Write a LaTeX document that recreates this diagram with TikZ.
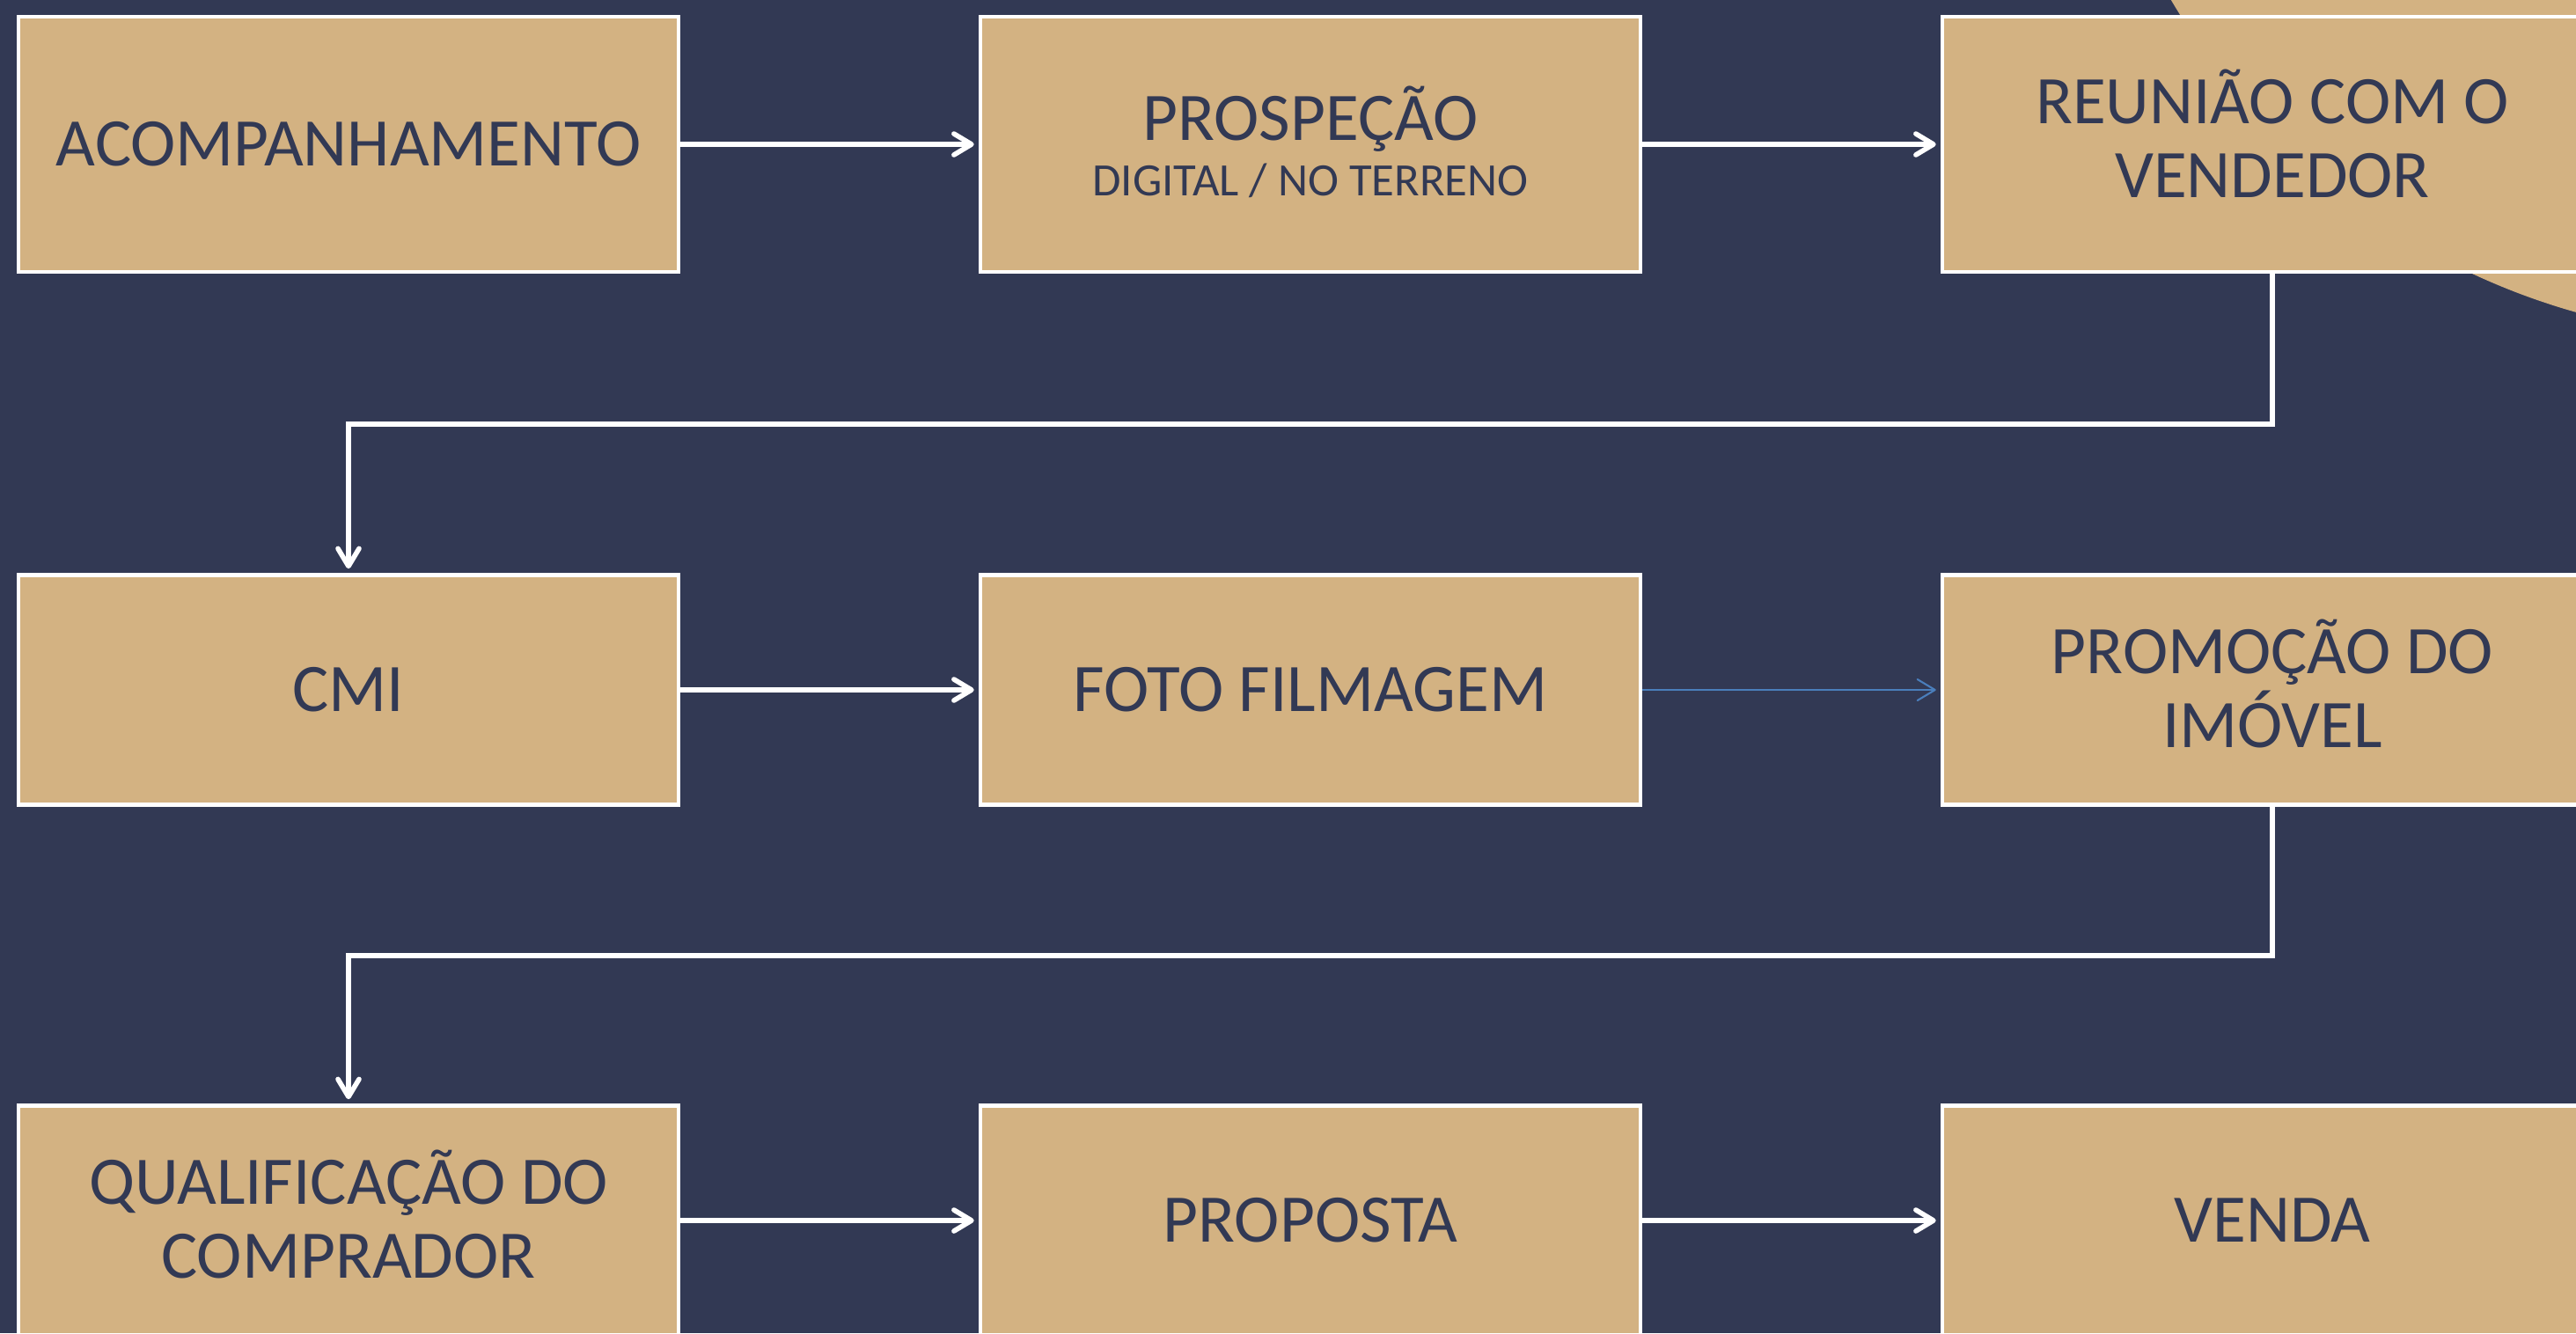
\documentclass[tikz,border=0pt]{standalone}
\usepackage{fontspec}
\setmainfont{Carlito}
\usetikzlibrary{arrows.meta}
\definecolor{navy}{RGB}{50,57,84}
\definecolor{sand}{RGB}{211,178,130}
\definecolor{linkblue}{RGB}{74,126,187}
\newcommand{\lastline}{\rule[-4pt]{0pt}{0pt}}
\begin{document}
\begin{tikzpicture}[line width=1.3pt, font=\fontsize{22}{24}\selectfont,
  >={Straight Barb[length=2.0mm, width=2.4mm, round]}]
\tikzstyle{every node} = [rectangle, fill=sand, draw=white, text=navy, minimum width=7.5cm, align=center]
\tikzstyle{tall} = [minimum height=2.9cm]
\tikzstyle{short} = [minimum height=2.61cm]
\tikzstyle{link} = [->, white, line width=1.6pt, shorten >=0.5mm]
\useasboundingbox (0,0) rectangle (29.27,-15.15);
\clip (0,0) rectangle (29.27,-15.15);
\fill [navy] (0,0) rectangle (29.27,-15.15);
\fill [sand] (31.39,3.96) circle (7.8);
% first row
\node [tall] (acomp) at (3.96,-1.64) {ACOMPANHAMENTO};
\node [tall, font=\fontsize{15}{18}\selectfont] (prosp) at (14.89,-1.64) {{\fontsize{22}{24}\selectfont PROSPEÇÃO}\\DIGITAL / NO TERRENO\rule[-2pt]{0pt}{0pt}};
\node [tall] (reuniao) at (25.82,-1.64) {REUNIÃO COM O\\VENDEDOR\rule[-7pt]{0pt}{0pt}};
% second row
\node [short] (cmi) at (3.96,-7.84) {CMI};
\node [short] (foto) at (14.89,-7.84) {FOTO FILMAGEM};
\node [short] (promo) at (25.82,-7.84) {PROMOÇÃO DO\\IMÓVEL\lastline};
% third row
\node [short] (qualif) at (3.96,-13.87) {QUALIFICAÇÃO DO\\COMPRADOR\lastline};
\node [short] (proposta) at (14.89,-13.87) {PROPOSTA};
\node [short] (venda) at (25.82,-13.87) {VENDA};
\foreach \from/\to in {acomp/prosp, prosp/reuniao, cmi/foto, qualif/proposta, proposta/venda}
  \draw [link] (\from) -- (\to);
\draw [->, linkblue, line width=0.6pt, shorten >=0.5mm] (foto) -- (promo);
\draw [link] (reuniao.south) -- ++(0,-1.71) -| (cmi.north);
\draw [link] (promo.south) -- ++(0,-1.69) -| (qualif.north);
\end{tikzpicture}
\end{document}
